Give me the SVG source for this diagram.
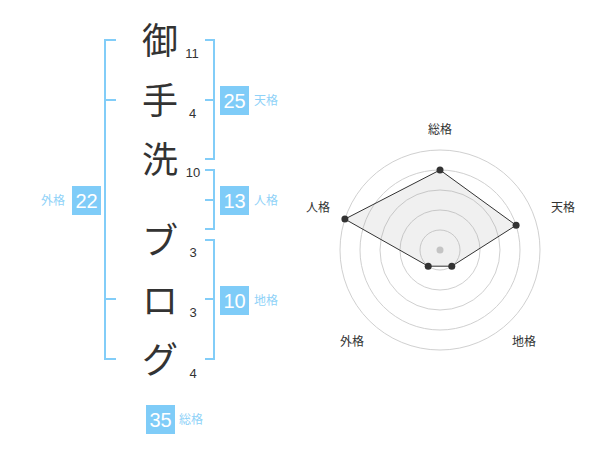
<svg xmlns="http://www.w3.org/2000/svg" width="600" height="470" viewBox="0 0 600 470">
<style>
.ch{font-family:"Noto Sans CJK JP","Noto Sans CJK SC",sans-serif;font-size:36px;fill:#333;text-anchor:middle}
.n{font-family:"Liberation Sans",Arial,sans-serif;font-size:13px;fill:#333;text-anchor:middle}
.br{fill:none;stroke:#82cdf8;stroke-width:2}
.box{fill:#7fccf8}
.bn{font-family:"Liberation Sans",Arial,sans-serif;font-size:20px;fill:#fff;text-anchor:middle}
.lb{font-family:"Noto Sans CJK JP",sans-serif;font-size:12px;fill:#8fd2f8}
.rl{font-family:"Noto Sans CJK JP",sans-serif;font-size:12px;fill:#333;text-anchor:middle}
.ring{fill:none;stroke:#d0d0d0;stroke-width:1}
</style>
<rect width="600" height="470" fill="#fff"/>
<g id="name">
<text class="ch" x="160" y="54">御</text>
<text class="ch" x="160" y="114">手</text>
<text class="ch" x="160" y="173">洗</text>
<text class="ch" x="160" y="254">ブ</text>
<text class="ch" x="160" y="314">ロ</text>
<text class="ch" x="160" y="373">グ</text>
</g>
<g id="strokes">
<text class="n" x="192" y="58">11</text>
<text class="n" x="192.5" y="118">4</text>
<text class="n" x="193" y="177">10</text>
<text class="n" x="193" y="257">3</text>
<text class="n" x="193" y="317">3</text>
<text class="n" x="193" y="378">4</text>
</g>
<g id="connectors">
<path class="br" d="M116,40 H105 V359 H116 M105,100 H116 M105,299 H116"/>
<path class="br" d="M205,40 H214 V159 H205 M214,100 H205"/>
<path class="br" d="M205,170 H214 V229 H205 M214,200 H205"/>
<path class="br" d="M205,240 H214 V359 H205 M214,299 H205"/>
</g>
<g id="tenkaku">
<rect class="box" x="220" y="86" width="29" height="29"/>
<text class="bn" x="234.5" y="108">25</text>
<text class="lb" x="254" y="105">天格</text>
</g>
<g id="jinkaku">
<rect class="box" x="220" y="186" width="29" height="29"/>
<text class="bn" x="234.5" y="208">13</text>
<text class="lb" x="254" y="205">人格</text>
</g>
<g id="chikaku">
<rect class="box" x="220" y="286" width="29" height="29"/>
<text class="bn" x="234.5" y="308">10</text>
<text class="lb" x="254" y="305">地格</text>
</g>
<g id="gaikaku">
<rect class="box" x="72" y="186" width="29" height="29"/>
<text class="bn" x="86.5" y="208">22</text>
<text class="lb" x="41" y="205">外格</text>
</g>
<g id="soukaku">
<rect class="box" x="146" y="405" width="29" height="29"/>
<text class="bn" x="160.5" y="427">35</text>
<text class="lb" x="179" y="424">総格</text>
</g>
<g id="radar">
<circle class="ring" cx="440" cy="250" r="20"/>
<circle class="ring" cx="440" cy="250" r="40"/>
<circle class="ring" cx="440" cy="250" r="60"/>
<circle class="ring" cx="440" cy="250" r="80"/>
<circle class="ring" cx="440" cy="250" r="100"/>
<circle cx="440" cy="250" r="3.5" fill="#ccc"/>
<polygon points="440,170 516.1,225.3 451.8,266.2 428.2,266.2 344.9,219.1" fill="#999" fill-opacity="0.15" stroke="#333" stroke-width="1"/>
<g fill="#333">
<circle cx="440" cy="170" r="3.5"/>
<circle cx="516.1" cy="225.3" r="3.5"/>
<circle cx="451.8" cy="266.2" r="3.5"/>
<circle cx="428.2" cy="266.2" r="3.5"/>
<circle cx="344.9" cy="219.1" r="3.5"/>
</g>
<text class="rl" x="440" y="134">総格</text>
<text class="rl" x="563" y="212">天格</text>
<text class="rl" x="524" y="346">地格</text>
<text class="rl" x="352" y="346">外格</text>
<text class="rl" x="318" y="212">人格</text>
</g>
</svg>
